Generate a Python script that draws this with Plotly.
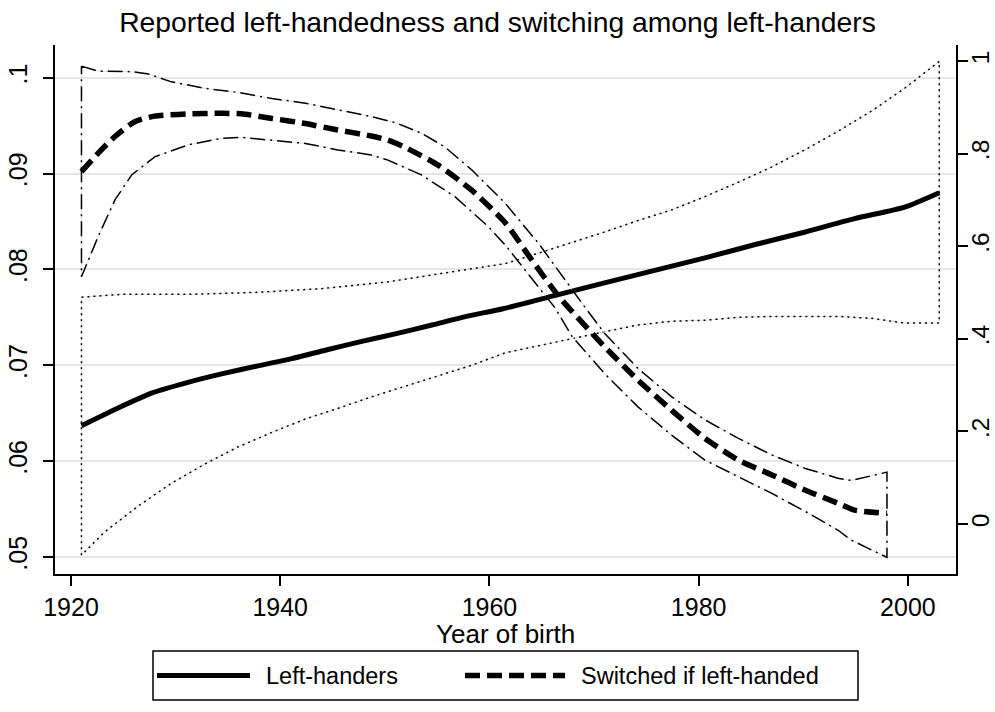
import plotly.graph_objects as go

# ---------------- data ----------------
lh_year = [1921, 1924.4, 1927.7, 1931.1, 1934.4, 1937.7, 1941.1, 1944.4, 1947.8, 1951.1,
           1954.5, 1957.8, 1961.3, 1966.3, 1971.0, 1975.8, 1980.6, 1985.4, 1990.2, 1994.9,
           1999.7, 2003]
lh_val = [0.0637, 0.0655, 0.0671, 0.0682, 0.0691, 0.0699, 0.0707, 0.0716, 0.0725, 0.0733,
          0.0742, 0.0751, 0.0759, 0.0773, 0.0786, 0.0799, 0.0812, 0.0826, 0.0839, 0.0853,
          0.0865, 0.0880]

lh_hi_year = [1921, 1924.8, 1931.2, 1937.6, 1944.0, 1950.3, 1956.7, 1961.5, 1964.7, 1967.9,
              1971.0, 1974.2, 1977.4, 1980.6, 1983.8, 1987.0, 1990.2, 1993.3, 1996.5, 1999.7, 2003]
lh_hi = [0.0771, 0.0774, 0.0774, 0.0776, 0.0780, 0.0787, 0.0798, 0.0806, 0.0817, 0.0828,
         0.0839, 0.0851, 0.0862, 0.0876, 0.0891, 0.0907, 0.0925, 0.0944, 0.0965, 0.0989, 0.1017]

lh_lo_year = [1921, 1923.2, 1926.4, 1929.6, 1932.8, 1936.0, 1939.2, 1942.4, 1945.5, 1948.7,
              1951.9, 1955.1, 1958.3, 1961.5, 1964.7, 1967.9, 1971.0, 1974.2, 1977.4, 1980.6,
              1983.8, 1987.0, 1990.2, 1993.3, 1996.5, 1999.7, 2003]
lh_lo = [0.0502, 0.0526, 0.0553, 0.0577, 0.0597, 0.0615, 0.0630, 0.0644, 0.0655, 0.0667,
         0.0678, 0.0689, 0.0700, 0.0713, 0.0721, 0.0728, 0.0735, 0.0742, 0.0746, 0.0747,
         0.0750, 0.0751, 0.0751, 0.0751, 0.0749, 0.0744, 0.0744]

sw_year = [1921, 1922.6, 1924.2, 1926.1, 1928.0, 1931.2, 1934.4, 1936.3, 1939.2, 1942.4,
           1945.5, 1948.7, 1950.3, 1951.9, 1955.1, 1958.3, 1961.5, 1963.9, 1966.5, 1967.9,
           1971.0, 1974.2, 1977.4, 1980.6, 1983.8, 1987.0, 1990.2, 1993.3, 1994.9, 1998]
sw_val = [0.761, 0.801, 0.837, 0.869, 0.881, 0.886, 0.887, 0.886, 0.876, 0.865,
          0.851, 0.838, 0.829, 0.814, 0.775, 0.721, 0.651, 0.575, 0.495, 0.459,
          0.383, 0.311, 0.246, 0.185, 0.138, 0.106, 0.073, 0.045, 0.030, 0.023]

sw_hi_year = [1921, 1922.6, 1925.8, 1927.4, 1929.6, 1932.8, 1936.0, 1939.2, 1942.4, 1945.5,
              1948.7, 1951.0, 1953.5, 1955.7, 1958.3, 1961.5, 1964.7, 1969.2, 1971.0, 1974.2,
              1977.4, 1980.6, 1983.8, 1987.0, 1990.2, 1993.3, 1994.6, 1998]
sw_hi = [0.989, 0.978, 0.977, 0.972, 0.955, 0.941, 0.932, 0.919, 0.909, 0.894,
         0.880, 0.867, 0.844, 0.815, 0.765, 0.693, 0.606, 0.466, 0.412, 0.336,
         0.275, 0.225, 0.185, 0.149, 0.120, 0.099, 0.094, 0.112]

sw_lo_year = [1921, 1922.6, 1924.2, 1925.8, 1928.0, 1931.2, 1934.4, 1936.3, 1939.2, 1942.4,
              1945.5, 1948.7, 1950.3, 1953.5, 1956.7, 1959.9, 1961.5, 1966.3, 1967.9, 1971.0,
              1974.2, 1977.4, 1980.6, 1983.8, 1987.0, 1990.2, 1993.3, 1994.6, 1998]
sw_lo = [0.534, 0.621, 0.700, 0.754, 0.793, 0.819, 0.833, 0.835, 0.829, 0.822,
         0.808, 0.797, 0.786, 0.754, 0.707, 0.642, 0.603, 0.466, 0.405, 0.325,
         0.253, 0.192, 0.138, 0.102, 0.066, 0.027, -0.013, -0.035, -0.072]

left_ticks = [0.05, 0.06, 0.07, 0.08, 0.09, 0.10]
left_labels = [".05", ".06", ".07", ".08", ".09", ".1"]
right_ticks = [0, 0.2, 0.4, 0.6, 0.8, 1.0]
right_labels = ["0", ".2", ".4", ".6", ".8", "1"]
x_ticks = [1920, 1940, 1960, 1980, 2000]

FONT = "Liberation Sans, Arial, Helvetica, sans-serif"


def band(xh, yh, xl, yl):
    xs = list(xh) + list(xl)[::-1] + [xh[0]]
    ys = list(yh) + list(yl)[::-1] + [yh[0]]
    return xs, ys


fig = go.Figure()

# CI outline for left-handers (dotted) on left axis
bx, by = band(lh_hi_year, lh_hi, lh_lo_year, lh_lo)
fig.add_trace(go.Scatter(x=bx, y=by, mode="lines", line=dict(color="#e3e3e3", width=1),
                         hoverinfo="skip", showlegend=False))
fig.add_trace(go.Scatter(x=bx, y=by, mode="lines", name="95% CI left-handers",
                         line=dict(color="black", width=1.5, dash="2px,4px"), showlegend=False))

# CI outline for switched (dash-dot) on right axis
sx, sy = band(sw_hi_year, sw_hi, sw_lo_year, sw_lo)
fig.add_trace(go.Scatter(x=sx, y=sy, mode="lines", yaxis="y2", line=dict(color="#e3e3e3", width=1),
                         hoverinfo="skip", showlegend=False))
fig.add_trace(go.Scatter(x=sx, y=sy, mode="lines", yaxis="y2", name="95% CI switched",
                         line=dict(color="black", width=1.5, dash="15px,5px,2px,5px"), showlegend=False))

# main lines
fig.add_trace(go.Scatter(x=lh_year, y=lh_val, mode="lines", name="Left-handers",
                         line=dict(color="black", width=5, shape="spline", smoothing=0.6),
                         showlegend=False))
fig.add_trace(go.Scatter(x=sw_year, y=sw_val, mode="lines", yaxis="y2", name="Switched if left-handed",
                         line=dict(color="black", width=5.5, dash="15px,7px", shape="spline", smoothing=0.6),
                         showlegend=False))

# ---- legend drawn as a boxed key below the plot ----
W, H = 901.0, 529.0
def px(xp):
    return (xp - 55) / W
def py(yp):
    return (574 - yp) / H

ly = py(675.5)
shapes = [
    dict(type="rect", xref="paper", yref="paper", x0=px(153), x1=px(858), y0=py(700), y1=py(651),
         line=dict(color="black", width=1.5), fillcolor="white"),
    dict(type="line", xref="paper", yref="paper", x0=px(157), x1=px(250), y0=ly, y1=ly,
         line=dict(color="black", width=5)),
    dict(type="line", xref="paper", yref="paper", x0=px(465), x1=px(565), y0=ly, y1=ly,
         line=dict(color="black", width=5.5, dash="15px,7px")),
]
annotations = [
    dict(text="Left-handers", xref="paper", yref="paper", x=px(264), y=ly, xanchor="left",
         yanchor="middle", showarrow=False, font=dict(family=FONT, size=23.5, color="black")),
    dict(text="Switched if left-handed", xref="paper", yref="paper", x=px(579), y=ly, xanchor="left",
         yanchor="middle", showarrow=False, font=dict(family=FONT, size=23.5, color="black")),
    dict(text="Year of birth", xref="paper", yref="paper", x=0.5, y=py(634), xanchor="center",
         yanchor="middle", showarrow=False, font=dict(family=FONT, size=26, color="black")),
]

fig.update_layout(
    width=995, height=712,
    margin=dict(l=55, r=39, t=45, b=138, autoexpand=False),
    paper_bgcolor="white", plot_bgcolor="white",
    showlegend=False,
    title=dict(text="Reported left-handedness and switching among left-handers",
               x=0.5, xanchor="center", y=1 - 22 / 712, yanchor="middle", automargin=False,
               font=dict(family=FONT, size=28.3, color="black")),
    font=dict(family=FONT, color="black"),
    xaxis=dict(range=[1918.47, 2004.6], tickvals=x_ticks, ticks="outside", ticklen=10,
               tickwidth=1.5, tickcolor="black", showline=True, linecolor="black", linewidth=2,
               showgrid=False, zeroline=False, tickfont=dict(size=25), automargin=False),
    yaxis=dict(range=[0.04823, 0.10341], tickvals=left_ticks, ticktext=left_labels,
               tickangle=-90, ticks="outside", ticklen=10, tickwidth=1.5, tickcolor="black",
               showline=True, linecolor="black", linewidth=2, showgrid=True,
               gridcolor="#e6e6e6", gridwidth=2, zeroline=False, tickfont=dict(size=25),
               automargin=False, ticklabelstandoff=6),
    yaxis2=dict(range=[-0.108, 1.0346], tickvals=right_ticks, ticktext=right_labels,
                overlaying="y", side="right", tickangle=-90, ticks="outside", ticklen=10,
                tickwidth=1.5, tickcolor="black", showline=True, linecolor="black", linewidth=2,
                showgrid=False, zeroline=False, tickfont=dict(size=24.5), automargin=False,
                ticklabelstandoff=-8),
    shapes=shapes,
    annotations=annotations,
)

fig.write_html("out.html", config={"displayModeBar": False},
               post_script="document.body.style.margin='0';document.body.style.padding='0';")
